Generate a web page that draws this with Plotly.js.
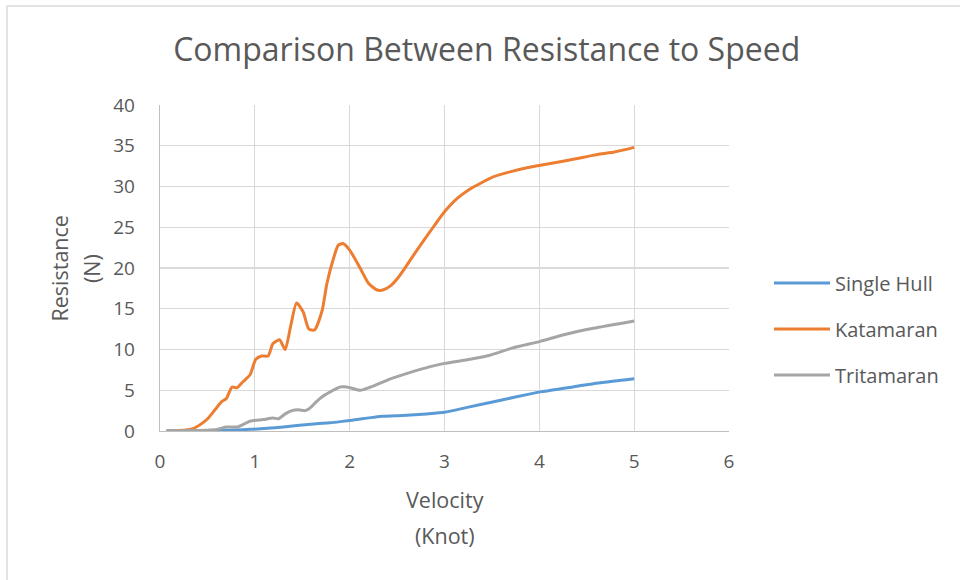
<!DOCTYPE html>
<html>
<head>
<meta charset="utf-8">
<script src="https://cdn.plot.ly/plotly-3.0.1.min.js"></script>
<style>html,body{margin:0;padding:0;background:#fff;}#chart{width:960px;height:580px;}</style>
</head>
<body>
<div id="chart"></div>
<script>
const seriesNames = ["Single Hull", "Katamaran", "Tritamaran"];

const singleX = [0.07,0.6,0.95,1.3,1.65,1.79,2.0,2.35,2.56,2.81,3.0,3.24,3.52,3.76,4.01,4.29,4.57,5.0];
const singleY = [0,0.05,0.2,0.5,0.9,1.0,1.3,1.8,1.9,2.1,2.3,2.9,3.6,4.2,4.8,5.3,5.8,6.4];

const kataX = [0.07,0.2,0.35,0.45,0.51,0.58,0.65,0.70,0.76,0.81,0.88,0.95,1.01,1.07,1.14,1.19,1.26,1.32,1.38,1.44,1.51,1.57,1.63,1.71,1.76,1.83,1.88,1.93,2.0,2.11,2.20,2.29,2.35,2.43,2.51,2.6,2.71,2.88,3.0,3.14,3.27,3.38,3.52,3.69,3.87,4.01,4.25,4.47,4.64,4.78,5.0];
const kataY = [0.05,0.05,0.3,1.0,1.6,2.6,3.6,4.0,5.4,5.3,6.1,6.9,8.8,9.2,9.2,10.7,11.2,10.0,13.0,15.7,14.6,12.5,12.4,14.8,18.1,21.2,22.8,23.0,22.2,20.0,18.1,17.3,17.3,17.8,18.8,20.3,22.2,25.0,26.9,28.6,29.7,30.4,31.2,31.8,32.3,32.6,33.1,33.6,34.0,34.2,34.8];

const triX = [0.07,0.3,0.6,0.70,0.82,0.95,1.09,1.19,1.25,1.32,1.39,1.46,1.53,1.58,1.65,1.71,1.81,1.90,1.97,2.11,2.22,2.43,2.64,2.85,3.0,3.27,3.48,3.72,4.01,4.29,4.57,5.0];
const triY = [0.05,0.05,0.2,0.5,0.5,1.2,1.4,1.6,1.5,2.1,2.5,2.6,2.5,2.8,3.6,4.2,4.9,5.4,5.4,5.0,5.4,6.4,7.2,7.9,8.3,8.8,9.3,10.2,11.0,11.9,12.6,13.5];

const xTicks = [0,1,2,3,4,5,6];
const yTicks = [0,5,10,15,20,25,30,35,40];

const chartTitle = "Comparison Between Resistance to Speed";
const xTitleLines = ["Velocity", "(Knot)"];
const yTitleLines = ["Resistance", "(N)"];

const colors = ["#5B9BD5", "#ED7D31", "#A5A5A5"];
const FONT = "Open Sans, Noto Sans, sans-serif";
const TXT = "#595959";

const mk = (x, y, i) => ({
  x: x, y: y, name: seriesNames[i], type: "scatter", mode: "lines",
  legendgroup: "g" + i,
  line: {color: colors[i], width: 3, shape: "spline", smoothing: 0.6},
  hoverinfo: "x+y"
});

const data = [mk(singleX, singleY, 0), mk(kataX, kataY, 1), mk(triX, triY, 2)];

// plot area: x 160..729, y 105..431 (pixels)
const PX = (p) => (p - 160) / 569;
const PY = (p) => (431 - p) / 326;

const annotations = [
  {text: xTitleLines[0], x: 0.5, y: PY(500)},
  {text: xTitleLines[1], x: 0.5, y: PY(535)},
  {text: yTitleLines[0], x: PX(58.5), y: PY(269), textangle: -90},
  {text: yTitleLines[1], x: PX(91), y: PY(269), textangle: -90}
].map(a => Object.assign({xref: "paper", yref: "paper", showarrow: false, xanchor: "center", yanchor: "middle",
  font: {family: FONT, size: 21.5, color: TXT}}, a));

const layout = {
  width: 960, height: 580,
  margin: {l: 160, r: 231, t: 105, b: 149, pad: 0},
  paper_bgcolor: "#fff", plot_bgcolor: "#fff",
  font: {family: FONT, color: TXT, size: 19},
  title: {text: chartTitle, font: {family: FONT, size: 32, color: TXT},
          x: 0.507, xanchor: "center", y: 1 - 50/580, yanchor: "middle", xref: "container", yref: "container"},
  xaxis: {
    range: [0, 6], tickvals: xTicks, ticktext: xTicks.map(String),
    showgrid: true, gridcolor: "#d9d9d9", gridwidth: 1.3,
    showline: true, linecolor: "#bfbfbf", linewidth: 1.3,
    zeroline: false, ticks: "outside", ticklen: 13, tickcolor: "rgba(0,0,0,0)",
    tickfont: {size: 19, color: TXT},
    automargin: false
  },
  yaxis: {
    range: [0, 40], tickvals: yTicks, ticktext: yTicks.map(String),
    showgrid: true, gridcolor: "#d9d9d9", gridwidth: 1.3,
    showline: true, linecolor: "#bfbfbf", linewidth: 1.3,
    zeroline: false, ticks: "outside", ticklen: 20, tickcolor: "rgba(0,0,0,0)",
    tickfont: {size: 19, color: TXT},
    automargin: false
  },
  legend: {
    x: PX(769), xanchor: "left", y: PY(329), yanchor: "middle",
    font: {size: 20, color: TXT}, tracegroupgap: 17, itemwidth: 56,
    bgcolor: "rgba(0,0,0,0)"
  },
  annotations: annotations,
  shapes: [
    {type: "line", xref: "paper", yref: "paper", x0: PX(7), x1: PX(7), y0: PY(6), y1: PY(600), line: {color: "#d9d9d9", width: 1.5}},
    {type: "line", xref: "paper", yref: "paper", x0: PX(7), x1: PX(980), y0: PY(6), y1: PY(6), line: {color: "#d9d9d9", width: 1.5}}
  ],
  showlegend: true
};

Plotly.newPlot("chart", data, layout, {displayModeBar: false, staticPlot: true});
</script>
</body>
</html>
